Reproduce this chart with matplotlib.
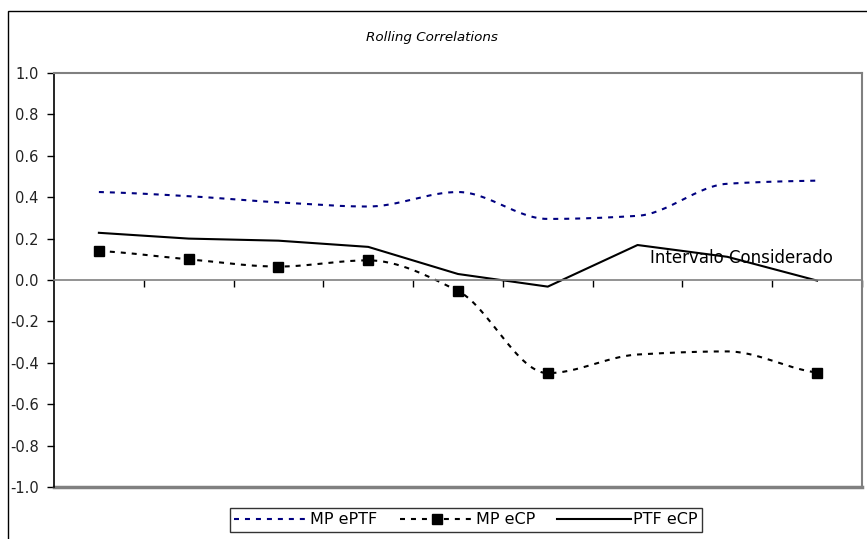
import matplotlib
matplotlib.use('Agg')
import matplotlib.pyplot as plt
from matplotlib.lines import Line2D
from matplotlib.patches import Rectangle
import numpy as np

plt.rcParams['font.family'] = 'DejaVu Sans'
plt.rcParams['lines.scale_dashes'] = False

# rolling windows (9 categories on the x axis)
periods = np.arange(1, 10)
mp_ptf = [0.425, 0.405, 0.375, 0.355, 0.425, 0.295, 0.31, 0.465, 0.48]
mp_cp = [0.14, 0.10, 0.065, 0.095, -0.053, -0.45, -0.36, -0.345, -0.447]
ptf_cp = [0.228, 0.20, 0.19, 0.16, 0.029, -0.032, 0.169, 0.112, -0.003]
series_names = ['MP ePTF', 'MP eCP', 'PTF eCP']
yticks = [-1.0, -0.8, -0.6, -0.4, -0.2, 0.0, 0.2, 0.4, 0.6, 0.8, 1.0]
ytick_labels = ['-1.0', '-0.8', '-0.6', '-0.4', '-0.2', '0.0',
                '0.2', '0.4', '0.6', '0.8', '1.0']
marked = [0, 1, 2, 3, 4, 5, 8]


def smooth(x, y, n=30):
    # smoothed line: cubic hermite segments, flat tangents at local extrema
    x = np.asarray(x, float)
    y = np.asarray(y, float)
    d = np.diff(y) / np.diff(x)
    m = np.zeros_like(y)
    m[0], m[-1] = d[0] / 2, d[-1] / 2
    for i in range(1, len(y) - 1):
        if d[i - 1] * d[i] > 0:
            m[i] = 2 / (1 / d[i - 1] + 1 / d[i])
    t = np.linspace(0, 1, n)
    xs, ys = [], []
    for i in range(len(y) - 1):
        h = x[i + 1] - x[i]
        h00 = 2 * t**3 - 3 * t**2 + 1
        h10 = t**3 - 2 * t**2 + t
        h01 = -2 * t**3 + 3 * t**2
        h11 = t**3 - t**2
        seg = h00 * y[i] + h10 * h * m[i] + h01 * y[i + 1] + h11 * h * m[i + 1]
        sl = slice(0 if i == 0 else 1, None)
        xs.append((x[i] + t * h)[sl])
        ys.append(seg[sl])
    return np.concatenate(xs), np.concatenate(ys)


fig = plt.figure(figsize=(8.67, 5.39), dpi=100)
ax = fig.add_axes([54 / 867, 1 - 487 / 539, 808 / 867, 414 / 539])

navy = '#000080'
dash = (3.6, 4.3)

sx, sy = smooth(periods, mp_ptf)
ax.plot(sx, sy, color=navy, lw=1.5, dashes=dash)

sx, sy = smooth(periods, mp_cp)
ax.plot(sx, sy, color='black', lw=1.5, dashes=dash)
ax.plot(periods[marked], np.array(mp_cp)[marked], ls='none', marker='s',
        ms=7, color='black')

ax.plot(periods, ptf_cp, color='black', lw=1.5)

ax.text(7.14, 0.106, 'Intervalo Considerado', fontsize=12, ha='left',
        va='center')

ax.set_xlim(0.5, 9.5)
ax.set_ylim(-1, 1)
ax.set_yticks(yticks)
ax.set_yticklabels(ytick_labels, fontsize=10.5, color='#222222')
ax.set_xticks(np.arange(1.5, 10, 1))
ax.tick_params(axis='x', direction='out', length=5, width=1,
               labelbottom=False, color='black')
ax.tick_params(axis='y', direction='out', length=5, width=1, pad=6)

ax.spines['bottom'].set_position(('data', 0))
ax.spines['bottom'].set_color('#808080')
ax.spines['bottom'].set_linewidth(1.2)
for s in ['top', 'right']:
    ax.spines[s].set_color('#808080')
    ax.spines[s].set_linewidth(1.5)
ax.spines['left'].set_linewidth(1.2)
ax.axhline(-1, color='#808080', lw=2.5, clip_on=False)

fig.text(432 / 867, 1 - 37 / 539, 'Rolling Correlations', fontsize=9.7,
         style='italic', ha='center', va='center')

# outer chart border (only top/left edges fall inside the image)
fig.patches.append(Rectangle((8 / 867, -0.1), 1.2, 1 - 11 / 539 + 0.1,
                             transform=fig.transFigure, fill=False,
                             edgecolor='black', lw=1))

handles = [
    Line2D([], [], color=navy, lw=1.5, dashes=dash),
    Line2D([], [], color='black', lw=1.5, dashes=dash, marker='s', ms=7),
    Line2D([], [], color='black', lw=1.5),
]
leg = fig.legend(handles, series_names, loc='center', ncol=3,
                 bbox_to_anchor=(466 / 867, 1 - 520 / 539), fontsize=11.5,
                 handlelength=4.6, handletextpad=0.15, columnspacing=1.4,
                 frameon=True, fancybox=False, borderpad=0.3,
                 borderaxespad=0)
leg.get_frame().set_edgecolor('black')
leg.get_frame().set_linewidth(1)

fig.savefig('out.png', dpi=100)
